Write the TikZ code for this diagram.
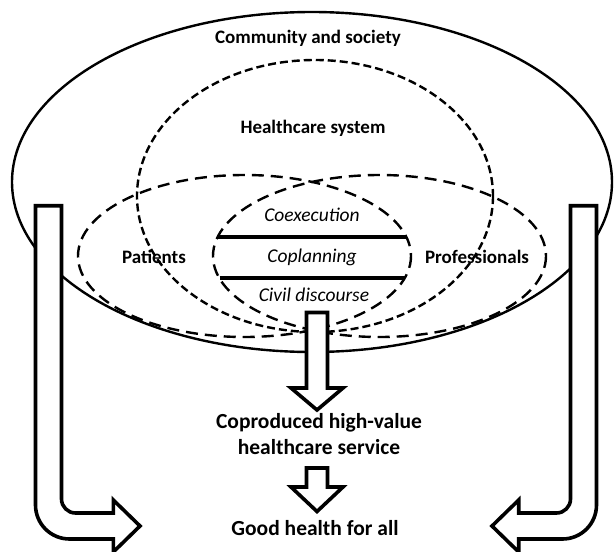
\documentclass[tikz,border=0pt]{standalone}
\usepackage{fontspec}
\setmainfont{Carlito}
\begin{document}
\begin{tikzpicture}[x=1pt,y=-1pt,
  outerline/.style={line width=2.4pt},
  dashline/.style={line width=2.4pt, dash pattern=on 12pt off 7pt},
  finedash/.style={line width=2.4pt, dash pattern=on 8pt off 4pt},
  lensline/.style={line width=3.5pt},
  blockarrow/.style={draw=black, fill=white, line width=3.6pt, line join=miter},
  boldlabel/.style={font=\fontsize{19}{22}\selectfont\bfseries, inner sep=0pt},
  itlabel/.style={font=\fontsize{19.5}{22}\selectfont\itshape, inner sep=0pt},
  biglabel/.style={font=\fontsize{21.5}{25.3}\selectfont\bfseries, inner sep=0pt, align=center}
]
\useasboundingbox (0,0) rectangle (614,552);
\fill[white] (0,0) rectangle (614,552);

% ellipses
\draw[outerline] (312,182) ellipse [x radius=300, y radius=170];
\draw[finedash] (315,196) ellipse [x radius=178, y radius=136];
\draw[dashline] (244.5,256) ellipse [x radius=166.5, y radius=81];
\draw[dashline] (379.5,256) ellipse [x radius=166.5, y radius=81];

% lens lines
\coordinate (l1a) at (218,237);
\coordinate (l1b) at (406.5,237);
\coordinate (l2a) at (219.5,278);
\coordinate (l2b) at (405,278);
\draw[lensline] (l1a) -- (l1b);
\draw[lensline] (l2a) -- (l2b);

% labels
\node[boldlabel] (comm) at (308,38) {Community and society};
\node[boldlabel] (hcs) at (313,128) {Healthcare system};
\node[itlabel] (coex) at (312,215) {Coexecution};
\node[itlabel] (copl) at (312,257) {Coplanning};
\node[itlabel] (civ) at (314,295) {Civil discourse};
\node[boldlabel] (pat) at (154,257) {Patients};
\node[boldlabel] (prof) at (477,257) {Professionals};
\node[biglabel] (copr) at (319,434) {Coproduced high-value\\healthcare service};
\node[biglabel] (good) at (315,528) {Good health for all};

% central arrows
\draw[blockarrow] (306.5,312.5) -- (327.5,312.5) -- (327.5,388) -- (343,388)
  -- (317,410) -- (291,388) -- (306.5,388) -- cycle;
\draw[blockarrow] (306.5,468) -- (327.5,468) -- (327.5,487) -- (343,487)
  -- (317,511.5) -- (291,487) -- (306.5,487) -- cycle;

% left bent arrow
\draw[blockarrow] (35.5,205.7) -- (61.5,205.7) -- (61.5,499)
  .. controls (61.5,506.7) and (67.8,513) .. (75.5,513)
  -- (113.3,513) -- (113.3,500) -- (140,526) -- (113.3,552) -- (113.3,539)
  -- (69.5,539)
  .. controls (50.7,539) and (35.5,523.8) .. (35.5,505)
  -- cycle;

% right bent arrow
\draw[blockarrow] (596.5,205.7) -- (570.5,205.7) -- (570.5,499)
  .. controls (570.5,506.7) and (564.2,513) .. (556.5,513)
  -- (518.7,513) -- (518.7,500) -- (492,526) -- (518.7,552) -- (518.7,539)
  -- (562.5,539)
  .. controls (581.3,539) and (596.5,523.8) .. (596.5,505)
  -- cycle;
\end{tikzpicture}
\end{document}
